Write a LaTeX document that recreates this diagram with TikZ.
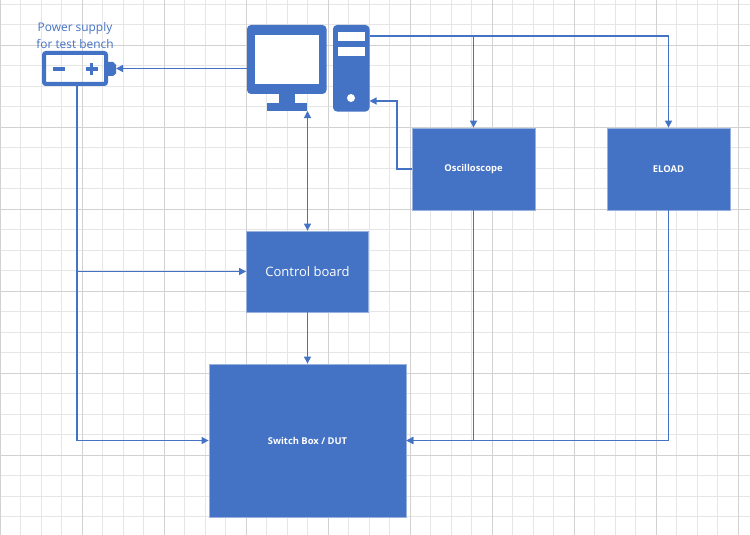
\documentclass[tikz,border=0pt]{standalone}
\usepackage{fontspec}
\setmainfont{Open Sans}
\usetikzlibrary{arrows.meta}
\definecolor{blu}{HTML}{4472C4}
\definecolor{minorg}{HTML}{E6E6E6}
\definecolor{majorg}{HTML}{D2D2D2}
\tikzset{
  x=1pt,y=-1pt,
  box/.style={draw=blu!55!white,line width=0.8pt,fill=blu,text=white,inner sep=0pt,font=\fontsize{9.4}{11}\selectfont\bfseries},
  iconbox/.style={inner sep=0pt,outer sep=0pt},
  conn/.style={draw=blu,line width=1.15pt,-{Triangle[length=7pt,width=7pt]}},
  bothconn/.style={draw=blu,line width=1.15pt,{Triangle[length=7pt,width=7pt]}-{Triangle[length=7pt,width=7pt]}},
}
\begin{document}
\begin{tikzpicture}
\useasboundingbox (0,0) rectangle (750,535);
\fill[white] (0,0) rectangle (750,535);
% grid
\foreach \k in {0,...,36}{\draw[minorg,line width=0.9pt] ({\k*20.5},0) -- ({\k*20.5},535);}
\foreach \k in {0,...,26}{\draw[minorg,line width=0.9pt] (0,{4+\k*20.5}) -- (750,{4+\k*20.5});}
\foreach \k in {0,...,9}{\draw[majorg,line width=0.9pt] ({\k*82},0) -- ({\k*82},535);}
\foreach \k in {0,...,6}{\draw[majorg,line width=0.9pt] (0,{45+\k*82}) -- (750,{45+\k*82});}
% boxes
\node[box,minimum width=123pt,minimum height=82pt] (osc) at (473.5,169) {Oscilloscope};
\node[box,minimum width=123pt,minimum height=82pt] (eload) at (668.5,169) {ELOAD};
\node[box,minimum width=122pt,minimum height=81pt,font=\fontsize{13}{15}\selectfont] (ctrl) at (307.5,271.5) {Control board};
\node[box,minimum width=197pt,minimum height=153pt] (dut) at (307.5,440.5) {Switch Box / DUT};
% monitor icon
\fill[blu,rounded corners=4pt] (247,25) rectangle (326.5,94);
\fill[white] (254.5,35) rectangle (319,84);
\fill[blu] (279,93) rectangle (294.5,103);
\fill[blu] (267,102.5) rectangle (307,111);
\node[iconbox,minimum width=80pt,minimum height=86pt] (monitor) at (287,68) {};
% tower icon
\fill[blu,rounded corners=4pt] (333,25) rectangle (369.5,111.5);
\fill[white] (337.5,32) rectangle (365,41);
\fill[white] (337.5,47) rectangle (365,56);
\fill[white] (351,98) circle (4pt);
\node[iconbox,minimum width=36pt,minimum height=86pt] (tower) at (351,68) {};
% battery icon
\draw[blu,line width=4pt,rounded corners=2pt] (44,53) rectangle (106,84);
\fill[blu] (107,62) -- (113,62) -- (116,65) -- (116,73.5) -- (113,76) -- (107,76) -- cycle;
\fill[blu] (52.5,67.5) rectangle (65,71);
\fill[blu] (85.5,67.5) rectangle (97.5,71);
\fill[blu] (89.8,63) rectangle (93.2,75.5);
\node[iconbox,minimum width=74pt,minimum height=35pt] (batt) at (79,68.5) {};
\node[text=blu,align=center,inner sep=0pt,font=\fontsize{11.9}{17}\selectfont] (psu) at (75,35.5) {Power supply\\for test bench};
% connector way-points
\coordinate (battout) at (77,86);
\coordinate (ctrlin) at (ctrl.west);
\coordinate (dutin) at (dut.west);
\coordinate (oscT) at (osc.north);
\coordinate (eloadT) at (eload.north);
\coordinate (towerA) at (369.5,36);
\coordinate (towerB) at (369.5,101);
% connectors
\draw[conn] (monitor.west |- batt.east) -- (batt.east);
\draw[conn] (towerA) -| (oscT);
\draw[conn] (towerA) -| (eloadT);
\draw[conn] (osc.west) -- (397,169) -- (397,101) -- (towerB);
\draw[bothconn] (ctrl.north) -- (ctrl.north |- monitor.south);
\draw[conn] (battout) |- (ctrlin);
\draw[conn] (battout) |- (dutin);
\draw[conn] (ctrl.south) -- (ctrl.south |- dut.north);
\draw[conn] (osc.south) |- (dut.east);
\draw[conn] (eload.south) |- (dut.east);
\end{tikzpicture}
\end{document}
